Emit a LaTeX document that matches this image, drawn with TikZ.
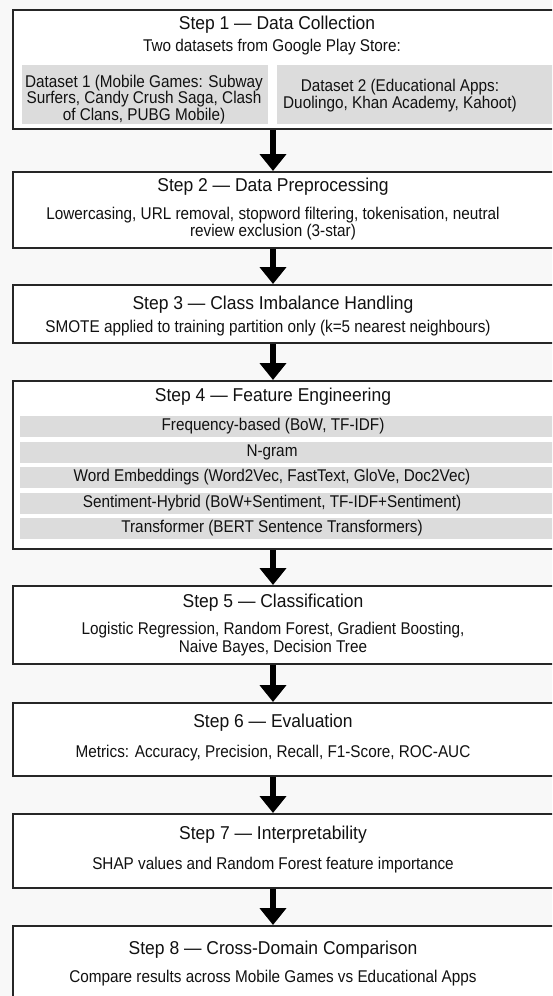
\documentclass[tikz,border=0pt]{standalone}
\usepackage{fontspec}
\setmainfont{Liberation Sans}
\newfontfamily\condfont[FakeStretch=0.9]{Liberation Sans}
\newfontfamily\titlefont[FakeStretch=0.94]{Liberation Sans}
\usetikzlibrary{arrows.meta}
\definecolor{bgc}{HTML}{F8F8F8}
\definecolor{barc}{HTML}{DCDCDC}
\definecolor{inkc}{HTML}{111111}
\tikzset{
  stepbox/.style={draw=black!85, line width=1.8pt, fill=white, anchor=north west, minimum width=580pt, inner sep=0pt},
  graybox/.style={fill=barc, anchor=north west, inner sep=0pt},
  ttl/.style={font=\titlefont\fontsize{18.6}{20}\selectfont, text=inkc, inner sep=0pt, anchor=center},
  sub/.style={font=\condfont\fontsize{17}{17}\selectfont, text=inkc, inner sep=0pt, anchor=center, align=center},
  arr/.style={line width=6.5pt, -{Triangle[width=26pt,length=17pt]}, black}
}
\begin{document}
\begin{tikzpicture}[x=1pt,y=-1pt]
\useasboundingbox (0,0) rectangle (552,996);
\clip (0,0) rectangle (552,996);
\fill[bgc] (0,0) rectangle (552,996);
\coordinate (ax) at (273,0);
% boxes
\node[stepbox, minimum height=119pt] (b1) at (12,9) {};
\node[stepbox, minimum height=76pt] (b2) at (12,171) {};
\node[stepbox, minimum height=58pt] (b3) at (12,284) {};
\node[stepbox, minimum height=168pt] (b4) at (12,380) {};
\node[stepbox, minimum height=78pt] (b5) at (12,585) {};
\node[stepbox, minimum height=73pt] (b6) at (12,702) {};
\node[stepbox, minimum height=74pt] (b7) at (12,813) {};
\node[stepbox, minimum height=100pt] (b8) at (12,925) {};
% step 1
\node[ttl] (t1) at (277,25) {Step 1 — Data Collection};
\node[sub] (s1) at (272,47) {Two datasets from Google Play Store:};
\node[graybox, minimum width=246pt, minimum height=59pt] (g1) at (22,65) {};
\node[graybox, minimum width=300pt, minimum height=59pt] (g2) at (277,65) {};
\node[sub, font=\condfont\fontsize{17}{14.6}\selectfont] (g1t) at (144,99.5) {Dataset 1 (Mobile Games: Subway\\Surfers, Candy Crush Saga, Clash\\of Clans, PUBG Mobile)};
\node[sub, font=\condfont\fontsize{17}{14.6}\selectfont] (g2t) at (400,95.5) {Dataset 2 (Educational Apps:\\Duolingo, Khan Academy, Kahoot)};
% step 2
\node[ttl] (t2) at (273,187) {Step 2 — Data Preprocessing};
\node[sub] (s2) at (273,223.5) {Lowercasing, URL removal, stopword filtering, tokenisation, neutral\\review exclusion (3-star)};
% step 3
\node[ttl] (t3) at (273,305) {Step 3 — Class Imbalance Handling};
\node[sub] (s3) at (268,328) {SMOTE applied to training partition only (k=5 nearest neighbours)};
% step 4
\node[ttl] (t4) at (273,397) {Step 4 — Feature Engineering};
\node[graybox, minimum width=560pt, minimum height=21pt, anchor=west] (f1) at (20,426) {};
\node[graybox, minimum width=560pt, minimum height=21pt, anchor=west] (f2) at (20,452) {};
\node[graybox, minimum width=560pt, minimum height=21pt, anchor=west] (f3) at (20,477.5) {};
\node[graybox, minimum width=560pt, minimum height=21pt, anchor=west] (f4) at (20,503) {};
\node[graybox, minimum width=560pt, minimum height=21pt, anchor=west] (f5) at (20,528.5) {};
\node[sub] (f1t) at (273,426) {Frequency-based (BoW, TF-IDF)};
\node[sub] (f2t) at (272,452) {N-gram};
\node[sub] (f3t) at (272,477.5) {Word Embeddings (Word2Vec, FastText, GloVe, Doc2Vec)};
\node[sub] (f4t) at (272,503) {Sentiment-Hybrid (BoW+Sentiment, TF-IDF+Sentiment)};
\node[sub] (f5t) at (272,528.5) {Transformer (BERT Sentence Transformers)};
% step 5
\node[ttl] (t5) at (273,603) {Step 5 — Classification};
\node[sub, font=\condfont\fontsize{17}{18}\selectfont] (s5) at (273,639) {Logistic Regression, Random Forest, Gradient Boosting,\\Naive Bayes, Decision Tree};
% step 6
\node[ttl] (t6) at (273,723) {Step 6 — Evaluation};
\node[sub] (s6) at (273,753) {Metrics: Accuracy, Precision, Recall, F1-Score, ROC-AUC};
% step 7
\node[ttl] (t7) at (273,835) {Step 7 — Interpretability};
\node[sub] (s7) at (273,865) {SHAP values and Random Forest feature importance};
% step 8
\node[ttl] (t8) at (273,950) {Step 8 — Cross-Domain Comparison};
\node[sub] (s8) at (273,978) {Compare results across Mobile Games vs Educational Apps};
% arrows
\draw[arr] (b1.south -| ax) -- (b2.north -| ax);
\draw[arr] (b2.south -| ax) -- (b3.north -| ax);
\draw[arr] (b3.south -| ax) -- (b4.north -| ax);
\draw[arr] (b4.south -| ax) -- (b5.north -| ax);
\draw[arr] (b5.south -| ax) -- (b6.north -| ax);
\draw[arr] (b6.south -| ax) -- (b7.north -| ax);
\draw[arr] (b7.south -| ax) -- (b8.north -| ax);
\end{tikzpicture}
\end{document}
